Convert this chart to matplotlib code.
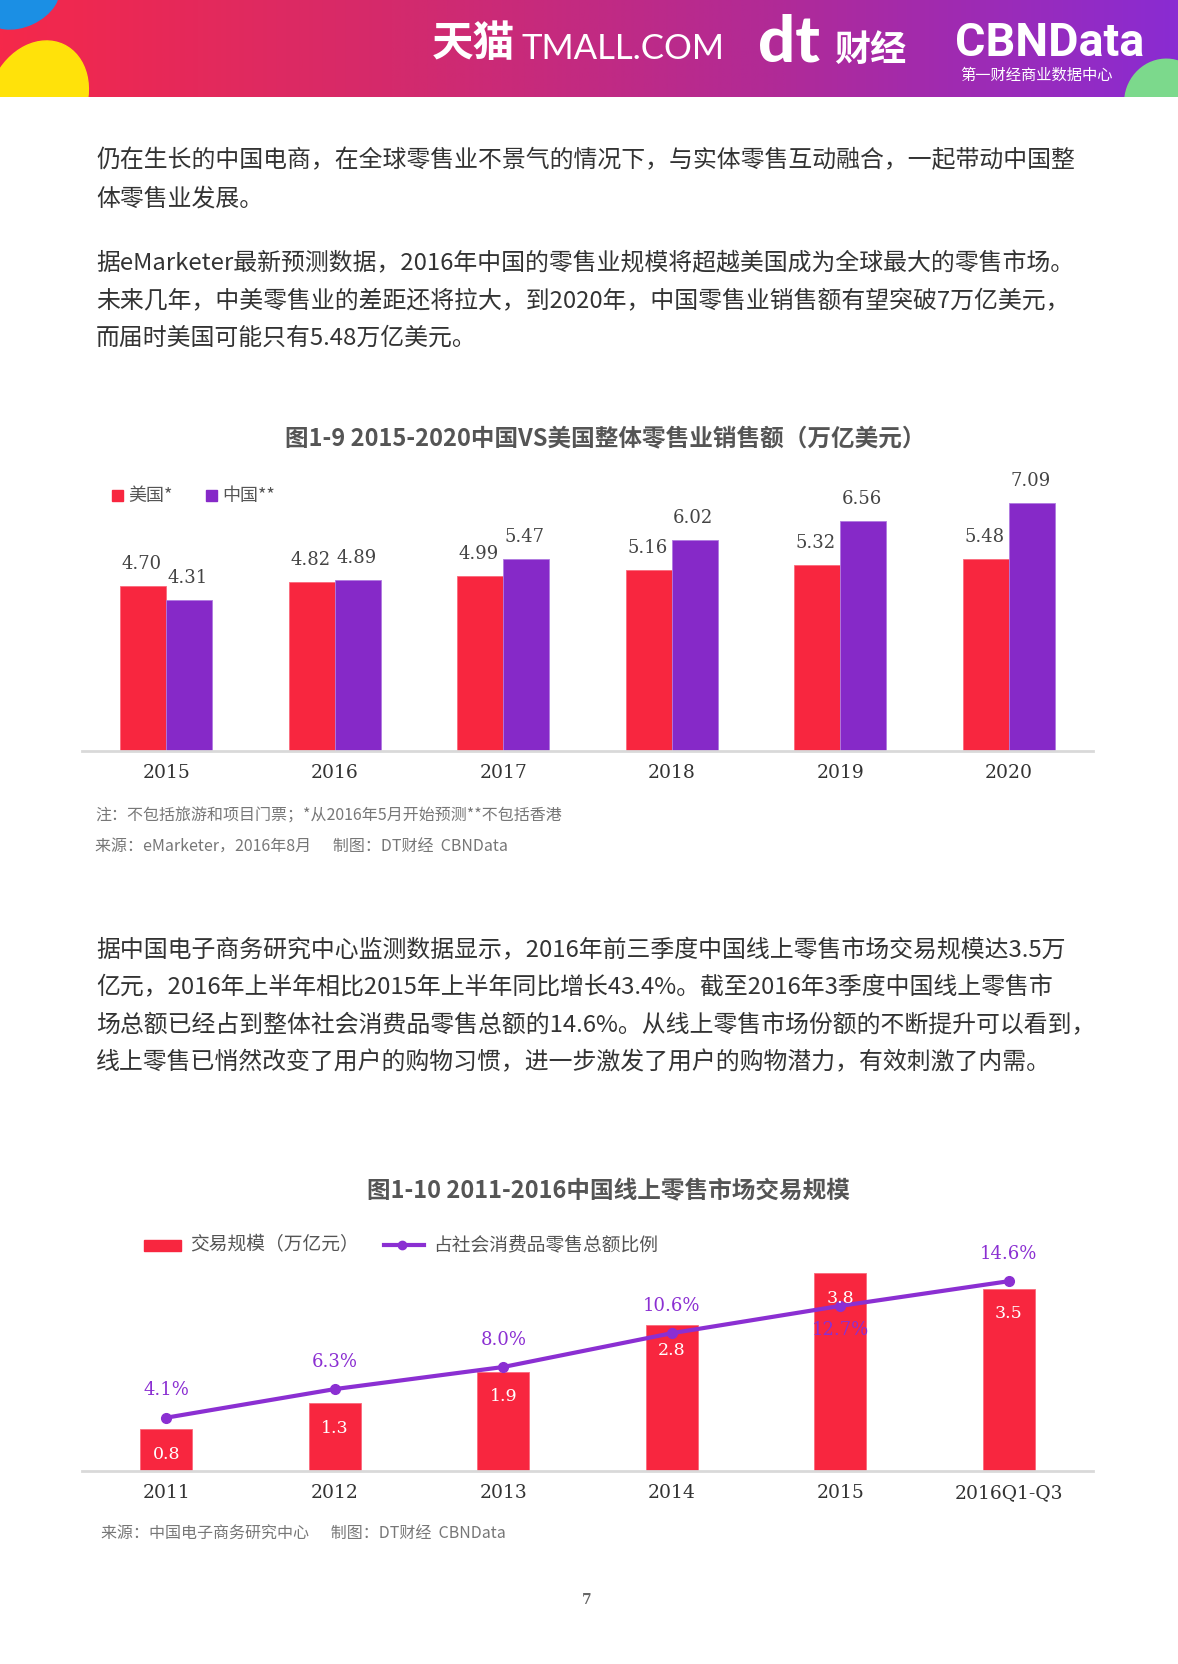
import matplotlib
matplotlib.use("Agg")
import matplotlib.pyplot as plt
import numpy as np
from matplotlib.colors import LinearSegmentedColormap
from matplotlib.patches import Rectangle, Ellipse
from matplotlib.lines import Line2D

plt.rcParams['font.family'] = ['Noto Sans CJK SC', 'DejaVu Sans']

# ---------------- data ----------------
years1 = ['2015', '2016', '2017', '2018', '2019', '2020']
usa_sales = [4.70, 4.82, 4.99, 5.16, 5.32, 5.48]
china_sales = [4.31, 4.89, 5.47, 6.02, 6.56, 7.09]
legend1 = ['美国*', '中国**']

years2 = ['2011', '2012', '2013', '2014', '2015', '2016Q1-Q3']
online_volume = [0.8, 1.3, 1.9, 2.8, 3.8, 3.5]
online_share = [4.1, 6.3, 8.0, 10.6, 12.7, 14.6]
legend2 = ['交易规模（万亿元）', '占社会消费品零售总额比例']

title1 = '图1-9 2015-2020中国VS美国整体零售业销售额（万亿美元）'
title2 = '图1-10 2011-2016中国线上零售市场交易规模'

para1 = ['仍在生长的中国电商，在全球零售业不景气的情况下，与实体零售互动融合，一起带动中国整',
         '体零售业发展。']
para2 = ['据eMarketer最新预测数据，2016年中国的零售业规模将超越美国成为全球最大的零售市场。',
         '未来几年，中美零售业的差距还将拉大，到2020年，中国零售业销售额有望突破7万亿美元，',
         '而届时美国可能只有5.48万亿美元。']
para3 = ['据中国电子商务研究中心监测数据显示，2016年前三季度中国线上零售市场交易规模达3.5万',
         '亿元，2016年上半年相比2015年上半年同比增长43.4%。截至2016年3季度中国线上零售市',
         '场总额已经占到整体社会消费品零售总额的14.6%。从线上零售市场份额的不断提升可以看到，',
         '线上零售已悄然改变了用户的购物习惯，进一步激发了用户的购物潜力，有效刺激了内需。']
note1 = '注：不包括旅游和项目门票；*从2016年5月开始预测**不包括香港'
source1 = '来源：eMarketer，2016年8月      制图：DT财经  CBNData'
source2 = '来源：中国电子商务研究中心      制图：DT财经  CBNData'

RED = '#F8263F'
PURPLE = '#8629C8'
LINEP = '#8B2FD2'
GRAY_T = '#555555'
BODY = '#333333'
SERIF = 'DejaVu Serif'

W, H = 1178, 1665
fig = plt.figure(figsize=(W / 100, H / 100), dpi=100)
fig.patch.set_facecolor('white')

# overlay axes in pixel coordinates
ov = fig.add_axes([0, 0, 1, 1], zorder=0)
ov.set_xlim(0, W)
ov.set_ylim(H, 0)
ov.axis('off')

# ---- header band ----
cmap = LinearSegmentedColormap.from_list('hdr', ['#F5284A', '#D42A6C', '#B02A98', '#8A2CD2'])
grad = np.linspace(0, 1, 512).reshape(1, -1)
ov.imshow(grad, cmap=cmap, extent=[0, W, 98, 0], aspect='auto', zorder=0)
clip = Rectangle((0, 0), W, 98, transform=ov.transData)
for (cx, cy, ew, eh, ang, col) in [(22, 2, 78, 50, -25, '#1B8FE4'),
                                   (38, 100, 96, 120, 25, '#FFE20A'),
                                   (1165, 102, 80, 84, 20, '#7CD98C')]:
    e = Ellipse((cx, cy), ew, eh, angle=ang, color=col, zorder=1)
    ov.add_patch(e)
    e.set_clip_path(clip)
ov.text(432, 44, '天猫', color='white', fontsize=30, fontweight='bold', va='center', ha='left', zorder=3)
ov.text(522, 49, 'TMALL.COM', color='white', fontsize=25, family=['Lato', 'DejaVu Sans'],
        fontweight='normal', va='center', ha='left', zorder=3)
ov.text(758, 43, 'dt', color='white', fontsize=47, family=['Lato', 'DejaVu Sans'],
        fontweight='black', va='center', ha='left', zorder=3)
ov.text(834, 50, '财经', color='white', fontsize=26, fontweight='bold', va='center', ha='left', zorder=3)
ov.text(955, 43, 'CBNData', color='white', fontsize=33.5, family=['Roboto', 'DejaVu Sans'],
        fontweight='bold', va='center', ha='left', zorder=3)
ov.text(960, 75, '第一财经商业数据中心', color='white', fontsize=11, va='center', ha='left', zorder=3)

# ---- body text ----
def lines(txts, ys, x=96):
    for t, y in zip(txts, ys):
        ov.text(x, y, t, fontsize=17.2, color=BODY, fontweight='light', va='center', ha='left')

lines(para1, [161, 199])
lines(para2, [264, 302, 338])
lines(para3, [951, 988, 1026, 1063])

# ---- chart 1 titles / legends / notes ----
ov.text(605, 439, title1, fontsize=17, fontweight='bold', color=GRAY_T, ha='center', va='center')
ov.add_patch(Rectangle((112, 491), 11, 11, color=RED))
ov.text(128, 496, legend1[0], fontsize=13, color=GRAY_T, va='center', ha='left')
ov.add_patch(Rectangle((206, 491), 11, 11, color=PURPLE))
ov.text(222, 496, legend1[1], fontsize=13, color=GRAY_T, va='center', ha='left')
ov.text(95, 816, note1, fontsize=11.5, color='#777777', va='center', ha='left')
ov.text(95, 847, source1, fontsize=11.5, color='#777777', va='center', ha='left')

# ---- chart 2 titles / legends / notes ----
ov.text(608, 1191, title2, fontsize=17, fontweight='bold', color=GRAY_T, ha='center', va='center')
ov.add_patch(Rectangle((144, 1241), 37, 11, color=RED))
ov.text(190, 1245, legend2[0], fontsize=13.5, color=GRAY_T, va='center', ha='left')
ov.add_line(Line2D([384, 424], [1246, 1246], color=LINEP, lw=3))
ov.plot([402], [1246], 'o', color=LINEP, ms=6)
ov.text(433, 1245, legend2[1], fontsize=13.5, color=GRAY_T, va='center', ha='left')
ov.text(101, 1534, source2, fontsize=11.5, color='#777777', va='center', ha='left')
ov.text(587, 1600, '7', fontsize=10, color='#666666', family=SERIF, fontweight='bold', ha='center', va='center')


def px_axes(left, top, right, bottom):
    return fig.add_axes([left / W, 1 - bottom / H, (right - left) / W, (bottom - top) / H], zorder=2)


def style_axes(ax):
    ax.patch.set_alpha(0)
    for s in ['top', 'right', 'left']:
        ax.spines[s].set_visible(False)
    ax.spines['bottom'].set_color('#D9D9D9')
    ax.spines['bottom'].set_linewidth(2)
    ax.set_yticks([])


# ---------------- chart 1 ----------------
unit1 = 35.03
ax1 = px_axes(82, 752 - 8.5 * unit1, 1093, 752)
style_axes(ax1)
x1 = np.arange(len(years1))
bw1 = 0.273
ax1.bar(x1 - bw1 / 2, usa_sales, bw1, color=RED, edgecolor='#FA6A7C', linewidth=0.6)
ax1.bar(x1 + bw1 / 2, china_sales, bw1, color=PURPLE, edgecolor='#B07AE0', linewidth=0.6)
ax1.set_xlim(-0.5, len(years1) - 0.5)
ax1.set_ylim(0, 8.5)
for xi, v in zip(x1 - bw1 / 2, usa_sales):
    ax1.annotate(f'{v:.2f}', (xi, v), xytext=(-1, 16.5), textcoords='offset points',
                 ha='center', va='center', fontsize=13, family=SERIF, color='#444444')
for xi, v in zip(x1 + bw1 / 2, china_sales):
    ax1.annotate(f'{v:.2f}', (xi, v), xytext=(-1, 16.5), textcoords='offset points',
                 ha='center', va='center', fontsize=13, family=SERIF, color='#444444')
ax1.set_xticks(x1, years1, family=SERIF, fontsize=13.5, color='#333333')
ax1.tick_params(axis='x', length=0, pad=9)

# ---------------- chart 2 ----------------
unit2 = 52.0
ymax2 = 4.2
ax2 = px_axes(82, 1472 - ymax2 * unit2, 1093, 1472)
style_axes(ax2)
x2 = np.arange(len(years2))
bw2 = 0.308
ax2.bar(x2, online_volume, bw2, color=RED, edgecolor='#FA6A7C', linewidth=0.6, zorder=2)
ax2.set_xlim(-0.5, len(years2) - 0.5)
ax2.set_ylim(0, ymax2)
ax2.set_xticks(x2, years2, family=SERIF, fontsize=13.5, color='#333333')
ax2.tick_params(axis='x', length=0, pad=8.5)

ax2b = ax2.twinx()
ax2b.set_zorder(3)
ax2b.patch.set_alpha(0)
ax2b.set_ylim(0, ymax2 * 4)
for s in ax2b.spines.values():
    s.set_visible(False)
ax2b.set_yticks([])
ax2b.plot(x2, online_share, color=LINEP, lw=3, marker='o', ms=7, zorder=3)

for xi, v in zip(x2, online_volume):
    ax2b.annotate(f'{v:.1f}', (xi, v * 4), xytext=(0, -17), textcoords='offset points',
                  ha='center', va='center', fontsize=12.5, family=SERIF, color='white', zorder=5)
for i, (xi, v) in enumerate(zip(x2, online_share)):
    dy = -16.5 if i == 4 else 20.5
    ax2b.annotate(f'{v:.1f}%', (xi, v), xytext=(0, dy), textcoords='offset points',
                  ha='center', va='center', fontsize=13, family=SERIF, color=LINEP, zorder=5)

fig.savefig('out.png', dpi=100, facecolor='white')
